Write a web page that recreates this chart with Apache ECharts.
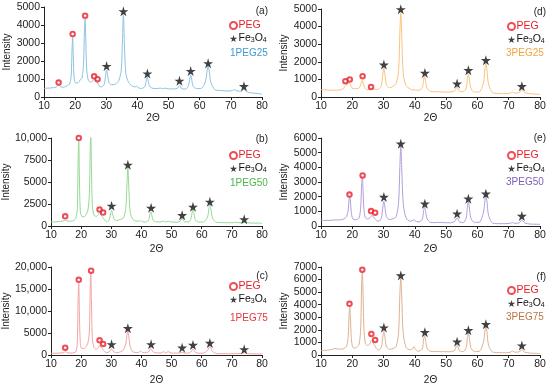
<!DOCTYPE html>
<html><head><meta charset="utf-8">
<script src="https://cdn.jsdelivr.net/npm/echarts@6/dist/echarts.min.js"></script>
<style>html,body{margin:0;padding:0;background:#fff}#c{width:550px;height:387px}</style>
</head><body><div id="c"></div>
<script>
// 2θ sample positions (degrees)
const twoTheta = [
 10, 11, 12, 13, 14, 14.4, 14.8, 15.2, 16,
 17, 17.6, 18.2, 18.7, 19.0, 19.2, 19.4, 19.7, 20.2,
 21, 21.6, 22.2, 22.7, 23.0, 23.2, 23.4, 23.7, 24.2, 25,
 25.7, 26.2, 26.6, 27.2, 27.7, 28.5, 29.3,
 29.8, 30.1, 30.4, 30.9, 31.8, 33, 34,
 34.8, 35.2, 35.5, 35.8, 36.3, 37.2, 38.5,
 39.4, 39.7, 40.1, 41, 42.3,
 42.8, 43.1, 43.4, 43.9, 45,
 46.5, 47.3, 48, 48.9, 50, 51.5, 52.8,
 53.2, 53.5, 53.8, 54.3, 55.5,
 56.4, 56.8, 57.1, 57.4, 57.9, 59,
 60.5, 61.9, 62.4, 62.7, 63.0, 63.6, 65,
 67, 69, 70.5, 71.2, 72, 73.4,
 73.9, 74.2, 74.5, 75.2, 77, 79, 80
];
const int1PEG25 = [
 480, 490, 500, 520, 560, 620, 680, 580, 540,
 580, 640, 720, 1100, 2600, 3320, 2300, 1000, 780,
 800, 950, 1050, 1900, 3800, 4330, 3300, 1600, 950, 820,
 900, 1000, 880, 800, 620, 560, 700,
 1200, 1500, 1250, 800, 680, 720, 900,
 1500, 3200, 4570, 3000, 1300, 800, 600,
 560, 600, 540, 470, 560,
 900, 1120, 950, 600, 480,
 470, 500, 460, 490, 450, 450, 480,
 580, 650, 580, 450, 440,
 650, 1000, 1210, 1000, 600, 470,
 480, 900, 1500, 1680, 1500, 800, 400,
 360, 330, 360, 400, 340, 320,
 400, 450, 400, 280, 220, 190, 150
];
const int1PEG50 = [
 460, 470, 490, 520, 560, 620, 660, 580, 540,
 560, 650, 850, 1800, 7500, 9620, 6000, 1800, 1100,
 1050, 1300, 1700, 3500, 8500, 10190, 7000, 2500, 1250, 1100,
 1300, 1530, 1200, 1000, 700, 480, 700,
 1450, 1800, 1450, 800, 620, 750, 900,
 2000, 4800, 6560, 4500, 1500, 750, 550,
 560, 650, 520, 450, 600,
 1300, 1600, 1300, 650, 480,
 460, 560, 460, 540, 450, 440, 520,
 750, 840, 720, 480, 450,
 800, 1500, 1800, 1500, 700, 450,
 450, 1000, 2000, 2370, 2000, 900, 400,
 380, 370, 380, 420, 380, 380,
 440, 460, 440, 370, 330, 340, 250
];
const int1PEG75 = [
 380, 400, 420, 450, 500, 620, 760, 600, 450,
 450, 520, 700, 2500, 13000, 16350, 10000, 3000, 1500,
 1500, 1900, 2660, 5000, 15000, 18630, 13000, 4000, 1800, 1300,
 1700, 2280, 1700, 1300, 800, 530, 700,
 1200, 1370, 1200, 700, 550, 700, 1140,
 2500, 4500, 5320, 4200, 1800, 700, 550,
 700, 910, 650, 520, 700,
 1150, 1370, 1150, 700, 480,
 460, 760, 480, 760, 450, 440, 480,
 570, 610, 560, 440, 420,
 700, 1100, 1290, 1100, 600, 400,
 420, 1000, 1700, 1900, 1700, 800, 330,
 300, 290, 300, 330, 300, 350,
 480, 530, 480, 320, 260, 240, 230
];
const int3PEG25 = [
 420, 410, 400, 390, 385, 385, 390, 385, 400,
 450, 600, 700, 760, 780, 760, 700, 560, 480,
 470, 480, 520, 700, 900, 950, 880, 650, 480, 420,
 460, 520, 480, 440, 420, 450, 650,
 1350, 1620, 1350, 700, 520, 600, 780,
 1500, 3600, 4750, 3500, 1300, 650, 460,
 400, 420, 390, 380, 500,
 950, 1180, 950, 500, 320,
 300, 300, 290, 290, 280, 290, 350,
 500, 570, 480, 330, 300,
 500, 1050, 1290, 1050, 500, 280,
 280, 800, 1600, 1900, 1600, 700, 230,
 200, 190, 220, 285, 220, 250,
 370, 420, 380, 250, 180, 160, 150
];
const int3PEG50 = [
 390, 380, 380, 390, 400, 410, 420, 410, 420,
 450, 520, 650, 1100, 1900, 2090, 1700, 900, 480,
 430, 460, 550, 1300, 2900, 3340, 2700, 1200, 560, 480,
 580, 730, 640, 520, 380, 330, 550,
 1350, 1680, 1350, 650, 440, 500, 620,
 1600, 4000, 5390, 4000, 1500, 550, 320,
 380, 430, 360, 270, 420,
 1050, 1300, 1050, 500, 250,
 230, 250, 230, 240, 220, 220, 320,
 480, 545, 470, 280, 230,
 550, 1300, 1640, 1300, 550, 250,
 250, 900, 1750, 2090, 1750, 700, 180,
 160, 160, 190, 230, 180, 220,
 340, 390, 350, 200, 130, 120, 110
];
const int3PEG75 = [
 350, 360, 380, 420, 480, 520, 510, 480, 470,
 480, 560, 700, 1500, 3400, 3810, 3000, 1300, 600,
 560, 650, 850, 2200, 5800, 6600, 5400, 2200, 900, 750,
 950, 1200, 1000, 750, 500, 400, 650,
 1500, 1860, 1500, 700, 450, 520, 670,
 1800, 4800, 6120, 4600, 1700, 600, 420,
 520, 670, 480, 300, 450,
 1250, 1520, 1250, 550, 290,
 270, 280, 260, 270, 260, 260, 380,
 680, 750, 650, 330, 270,
 600, 1400, 1730, 1400, 600, 280,
 280, 1000, 1900, 2260, 1900, 750, 220,
 190, 180, 220, 320, 220, 260,
 360, 400, 360, 220, 150, 130, 130
];
// Peak marker positions [2θ, intensity]
const peg1PEG25 = [[14.7,800],[19.2,3500],[23.2,4520],[26.1,1150],[27.2,990]];
const fe1PEG25 = [[30.1,1720],[35.5,4760],[43.2,1300],[53.5,900],[57.1,1440],[62.7,1870],[74.2,600]];
const peg1PEG50 = [[14.7,1100],[19.2,10000],[23.3,10300],[26.1,1870],[27.3,1530]];
const fe1PEG50 = [[30.1,2290],[35.5,6950],[43.2,2060],[53.5,1220],[57.1,2180],[62.7,2750],[74.1,760]];
const peg1PEG75 = [[14.7,1670],[19.2,17100],[23.3,19160],[26.1,3350],[27.3,2510]];
const fe1PEG75 = [[30.1,2430],[35.5,6080],[43.2,2430],[53.5,1670],[57.1,2280],[62.7,2740],[74.1,1290]];
const peg3PEG25 = [[17.8,900],[19.2,1000],[23.3,1180],[26.0,570]];
const fe3PEG25 = [[30.1,1840],[35.5,4980],[43.2,1370],[53.5,760],[57.1,1520],[62.7,2090],[74.2,610]];
const peg3PEG50 = [[19.1,2140],[23.3,3450],[26.0,1020],[27.3,910]];
const fe3PEG50 = [[30.1,1980],[35.5,5610],[43.2,1520],[53.5,840],[57.1,1860],[62.7,2200],[74.2,680]];
const peg3PEG75 = [[19.1,4070],[23.2,6790],[26.1,1680],[27.3,1200]];
const fe3PEG75 = [[30.1,2180],[35.5,6330],[43.2,1810],[53.5,1060],[57.1,1970],[62.7,2450],[74.2,750]];
// Axis ranges
const yMax = [5000, 10000, 20000, 5000, 6000, 7000];
const yStep = [1000, 2500, 5000, 1000, 1000, 1000];
const sampleNames = ['1PEG25','1PEG50','1PEG75','3PEG25','3PEG50','3PEG75'];
const panelTags = ['(a)','(b)','(c)','(d)','(e)','(f)'];

const intensities = [int1PEG25, int1PEG50, int1PEG75, int3PEG25, int3PEG50, int3PEG75];
const pegMarks = [peg1PEG25, peg1PEG50, peg1PEG75, peg3PEG25, peg3PEG50, peg3PEG75];
const feMarks = [fe1PEG25, fe1PEG50, fe1PEG75, fe3PEG25, fe3PEG50, fe3PEG75];

const lineColors = ['#8cc3e2','#96d896','#f0a6a6','#f8c47e','#b39ed9','#ddb292'];
const textColors = ['#3f9bd0','#4bb74b','#e8353a','#f2a33e','#7e5dba','#bb7646'];
const grids = [
  {left:44, top:7, width:218, height:90},
  {left:44, top:138, width:218, height:88},
  {left:44, top:267, width:218, height:88},
  {left:321, top:9, width:219, height:88},
  {left:321, top:138, width:219, height:88},
  {left:321, top:267, width:219, height:88}
];
const xNameGap = [15, 18, 20, 15, 18, 20];
const yNameGap = [21, 26, 26, 22, 22, 22];
const tagY = [12, 140, 277, 13, 139, 278];
const legY = [26, 156, 287, 27, 156, 291];
const nameY = [54, 184, 319, 54, 183, 318];
const FONT = 'Liberation Sans, Arial, sans-serif';
const STAR = 'path://M50,0 L61,35 L98,35 L68,57 L79,91 L50,70 L21,91 L32,57 L2,35 L39,35 Z';
const fmt = v => v >= 10000 ? String(v).replace(/\B(?=(\d{3})+(?!\d))/g, ',') : String(v);

const opt = {animation:false, backgroundColor:'#fff', grid:[], xAxis:[], yAxis:[], series:[], legend:[], title:[]};
grids.forEach((g, i) => {
  opt.grid.push(g);
  opt.xAxis.push({
    type:'value', gridIndex:i, min:10, max:80, interval:10,
    name:'2\u0398', nameLocation:'middle', nameGap:xNameGap[i],
    nameTextStyle:{fontFamily:FONT, fontSize:10, color:'#222'},
    axisLine:{lineStyle:{color:'#222', width:1}},
    axisTick:{show:true, length:3, lineStyle:{color:'#222'}},
    axisLabel:{fontFamily:FONT, fontSize:10.5, color:'#222', margin:4},
    splitLine:{show:false}
  });
  opt.yAxis.push({
    type:'value', gridIndex:i, min:0, max:yMax[i], interval:yStep[i],
    name:'Intensity', nameLocation:'middle', nameGap:yNameGap[i], nameRotate:90,
    nameTextStyle:{fontFamily:FONT, fontSize:10, color:'#222'},
    axisLine:{show:true, lineStyle:{color:'#222', width:1}},
    axisTick:{show:true, length:3, lineStyle:{color:'#222'}},
    axisLabel:{fontFamily:FONT, fontSize:10.5, color:'#222', margin:4, formatter:fmt},
    splitLine:{show:false}
  });
  opt.series.push({
    type:'line', name:sampleNames[i], xAxisIndex:i, yAxisIndex:i,
    data: twoTheta.map((x, k) => [x, intensities[i][k]]),
    showSymbol:false, symbol:'none', smooth:0.3,
    lineStyle:{color:lineColors[i], width:1}, z:2
  });
  opt.series.push({
    type:'scatter', name:'PEG', xAxisIndex:i, yAxisIndex:i, data:pegMarks[i],
    symbol:'emptyCircle', symbolSize:4.5,
    itemStyle:{color:'#e8202a', borderWidth:1.1}, z:3
  });
  opt.series.push({
    type:'scatter', name:'Fe3O4', xAxisIndex:i, yAxisIndex:i, data:feMarks[i],
    symbol:STAR, symbolSize:10, itemStyle:{color:'#111'}, z:3
  });
  const gx = g.left + g.width;
  opt.title.push({
    text:panelTags[i], right: 550 - gx - 6, top: tagY[i] - 6, padding:0,
    textStyle:{fontFamily:FONT, fontSize:10, fontWeight:'normal', color:'#222'}
  });
  opt.title.push({
    text:sampleNames[i], left: gx - (i < 3 ? 32 : 34), top: nameY[i] - 6, padding:0,
    textStyle:{fontFamily:FONT, fontSize:10, fontWeight:'normal', color:textColors[i]}
  });
  opt.legend.push({
    orient:'vertical', left: gx - 33, top: legY[i] - 6,
    itemWidth:8, itemHeight:7, itemGap:2, padding:0,
    data:[
      {name:'PEG', textStyle:{color:'#e8202a'}, itemStyle:{borderWidth:1}},
      {name:'Fe3O4', textStyle:{color:'#111'}}
    ],
    formatter: n => n === 'Fe3O4' ? 'Fe{s|3}O{s|4}' : n,
    textStyle:{fontFamily:FONT, fontSize:10.5, padding:[0,0,0,-4],
      rich:{s:{fontFamily:FONT, fontSize:7, padding:[4,0,0,0]}}},
    selectedMode:false
  });
});
const chart = echarts.init(document.getElementById('c'), null, {renderer:'canvas'});
chart.setOption(opt);
</script></body></html>
